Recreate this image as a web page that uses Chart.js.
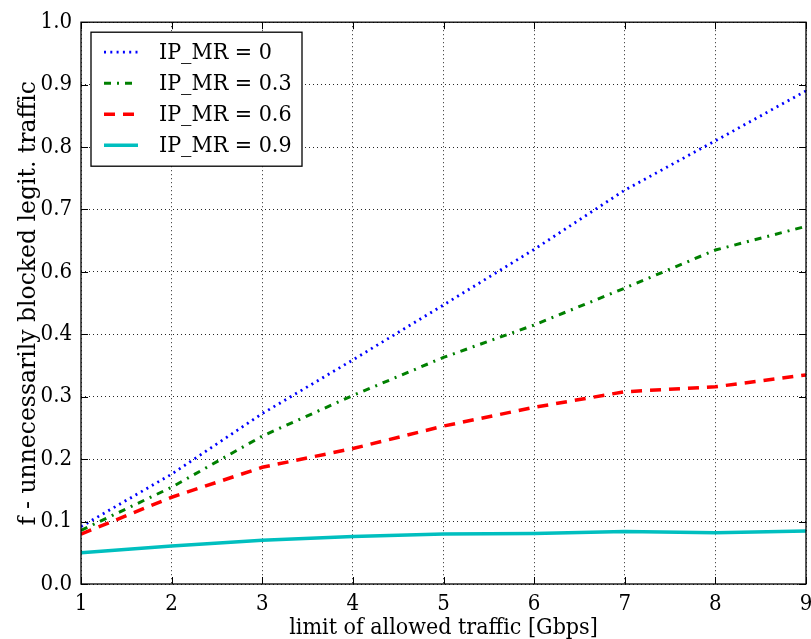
<!DOCTYPE html>
<html>
<head>
<meta charset="utf-8">
<script src="https://cdn.jsdelivr.net/npm/chart.js@4.4.1/dist/chart.umd.min.js"></script>
<style>
  html, body { margin: 0; padding: 0; background: #fff; }
</style>
</head>
<body>
<canvas id="grafico" width="811" height="639"></canvas>
<script>
// limite de tráfego permitido (Gbps)
const limites = [1, 2, 3, 4, 5, 6, 7, 8, 9];
// rótulos do eixo y, do fundo para o topo
const rotulosY = ['0.0', '0.1', '0.2', '0.3', '0.4', '0.6', '0.7', '0.8', '0.9', '1.0'];

const mr00 = [0.092, 0.176, 0.273, 0.359, 0.447, 0.536, 0.631, 0.710, 0.790];
const mr03 = [0.086, 0.155, 0.237, 0.302, 0.363, 0.415, 0.474, 0.535, 0.573];
const mr06 = [0.080, 0.139, 0.187, 0.217, 0.253, 0.283, 0.308, 0.316, 0.335];
const mr09 = [0.050, 0.061, 0.070, 0.076, 0.080, 0.081, 0.084, 0.082, 0.085];

const FONTE = '"DejaVu Serif", serif';
const FONTE_COND = '"DejaVu Serif Condensed", "DejaVu Serif", serif';

function pontos(valores) {
  return limites.map((x, i) => ({ x: x, y: valores[i] }));
}

// ticks para dentro nos quatro lados + moldura
const molduraTicks = {
  id: 'molduraTicks',
  afterDatasetsDraw(chart) {
    const { ctx, chartArea: a, scales } = chart;
    const tam = 7;
    ctx.save();
    ctx.strokeStyle = '#000';
    ctx.lineWidth = 1;
    ctx.beginPath();
    scales.x.ticks.forEach((t, i) => {
      const px = Math.round(scales.x.getPixelForTick(i)) + 0.5;
      ctx.moveTo(px, a.bottom); ctx.lineTo(px, a.bottom - tam);
      ctx.moveTo(px, a.top); ctx.lineTo(px, a.top + tam);
    });
    scales.y.ticks.forEach((t, i) => {
      const py = Math.round(scales.y.getPixelForTick(i)) + 0.5;
      ctx.moveTo(a.left, py); ctx.lineTo(a.left + tam, py);
      ctx.moveTo(a.right, py); ctx.lineTo(a.right - tam, py);
    });
    ctx.stroke();
    ctx.lineWidth = 1.3;
    ctx.strokeRect(a.left, a.top, a.right - a.left, a.bottom - a.top);
    ctx.restore();
  }
};

// legenda desenhada dentro da área do gráfico
const legendaInterna = {
  id: 'legendaInterna',
  afterDraw(chart) {
    const { ctx, chartArea: a } = chart;
    const bx = a.left + 10, by = a.top + 10, bw = 211, bh = 134;
    ctx.save();
    ctx.fillStyle = '#fff';
    ctx.fillRect(bx, by, bw, bh);
    ctx.strokeStyle = '#000';
    ctx.lineWidth = 1.3;
    ctx.strokeRect(bx, by, bw, bh);
    ctx.font = '23px ' + FONTE_COND;
    ctx.textBaseline = 'middle';
    chart.data.datasets.forEach((ds, i) => {
      const y = by + 20 + i * 31;
      ctx.strokeStyle = ds.borderColor;
      ctx.lineWidth = ds.borderWidth;
      ctx.setLineDash(ds.borderDash || []);
      ctx.beginPath();
      ctx.moveTo(bx + 13, y);
      ctx.lineTo(bx + 47, y);
      ctx.stroke();
      ctx.setLineDash([]);
      ctx.fillStyle = '#000';
      ctx.fillText(ds.label, bx + 68, y + 1);
    });
    ctx.restore();
  }
};

const eixoGrade = {
  color: 'rgba(0,0,0,0.85)',
  lineWidth: 1,
  drawTicks: false
};

new Chart(document.getElementById('grafico'), {
  type: 'line',
  data: {
    datasets: [
      { label: 'IP_MR = 0', data: pontos(mr00), borderColor: '#0000ff', borderWidth: 2.8, borderDash: [2, 4.3] },
      { label: 'IP_MR = 0.3', data: pontos(mr03), borderColor: '#008000', borderWidth: 3, borderDash: [7, 6, 2, 6] },
      { label: 'IP_MR = 0.6', data: pontos(mr06), borderColor: '#ff0000', borderWidth: 3.5, borderDash: [11, 8] },
      { label: 'IP_MR = 0.9', data: pontos(mr09), borderColor: '#00bfbf', borderWidth: 3.5 }
    ]
  },
  options: {
    responsive: false,
    animation: false,
    layout: { padding: { left: 14, top: 10, right: 0, bottom: -2 } },
    elements: { point: { radius: 0 }, line: { tension: 0, borderCapStyle: 'butt', fill: false } },
    plugins: { legend: { display: false }, tooltip: { enabled: false } },
    scales: {
      x: {
        type: 'linear',
        min: 1, max: 9,
        grid: eixoGrade,
        border: { display: false, dash: [1, 3] },
        afterFit: (s) => { s.height = 57; s.paddingLeft = 0; s.paddingRight = 5; },
        ticks: { stepSize: 1, padding: 8, color: '#000', font: { family: FONTE_COND, size: 22, lineHeight: 1.1 } },
        title: { display: true, text: 'limit of allowed traffic [Gbps]', color: '#000', padding: 0, font: { family: FONTE_COND, size: 23, lineHeight: 1.1 } }
      },
      y: {
        type: 'linear',
        min: 0, max: 0.9,
        grid: eixoGrade,
        border: { display: false, dash: [1, 3] },
        afterFit: (s) => { s.width = 67; },
        ticks: {
          stepSize: 0.1, padding: 9, color: '#000', font: { family: FONTE_COND, size: 22 },
          callback: (v, i) => rotulosY[i]
        },
        title: { display: true, text: 'f - unnecessarily blocked legit. traffic', color: '#000', padding: 1, font: { family: FONTE, size: 23.5 } }
      }
    }
  },
  plugins: [molduraTicks, legendaInterna]
});
</script>
</body>
</html>
